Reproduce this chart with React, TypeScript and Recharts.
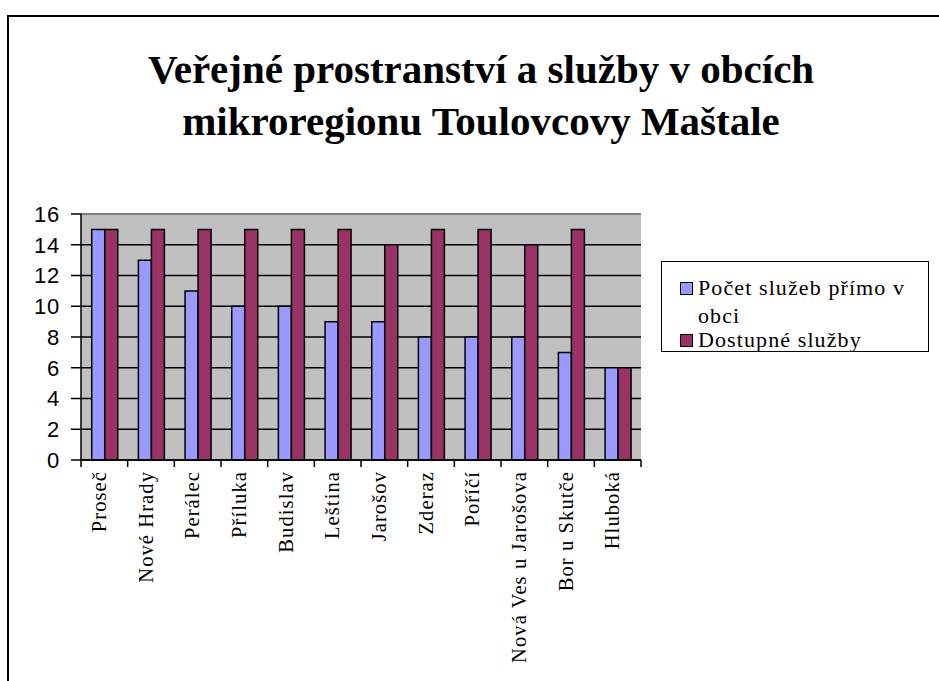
import React from 'react';
import { BarChart, Bar, XAxis, YAxis, CartesianGrid, ReferenceLine } from 'recharts';

const obce = [
  'Proseč',
  'Nové Hrady',
  'Perálec',
  'Příluka',
  'Budislav',
  'Leština',
  'Jarošov',
  'Zderaz',
  'Poříčí',
  'Nová Ves u Jarošova',
  'Bor u Skutče',
  'Hluboká',
];
const primoVObci = [15, 13, 11, 10, 10, 9, 9, 8, 8, 8, 7, 6];
const dostupne = [15, 15, 15, 15, 15, 15, 14, 15, 15, 14, 15, 6];
const yTicks = [0, 2, 4, 6, 8, 10, 12, 14, 16];

const seriesNames = ['Počet služeb přímo v obci', 'Dostupné služby'];
const BLUE = '#9999FF';
const MAROON = '#993366';

const data = obce.map((name, i) => ({
  name,
  primo: primoVObci[i],
  dostupne: dostupne[i],
}));

// plot area geometry (page px)
const PLOT_LEFT = 81;
const PLOT_RIGHT = 641;
const PLOT_TOP = 214;
const PLOT_BOTTOM = 460;
const BAND = (PLOT_RIGHT - PLOT_LEFT) / obce.length;

const serif = '"Liberation Serif", "Times New Roman", serif';
const sans = '"Liberation Sans", Arial, sans-serif';

function CategoryTick(props: any) {
  const { x, y, payload, index } = props;
  const left = x - BAND / 2;
  const isLast = index === obce.length - 1;
  const tx = x + 1.5;
  const ty = y + 11;
  return (
    <g>
      <line x1={left} y1={y} x2={left} y2={y + 7} stroke="#000" strokeWidth={1.5} />
      {isLast && (
        <line x1={left + BAND} y1={y} x2={left + BAND} y2={y + 7} stroke="#000" strokeWidth={1.5} />
      )}
      <text
        x={tx}
        y={ty}
        transform={`rotate(-90, ${tx}, ${ty})`}
        textAnchor="end"
        fontFamily={serif}
        fontSize={20.5}
        letterSpacing={1.1}
        fill="#000"
      >
        {payload.value}
      </text>
    </g>
  );
}

function Legend() {
  const sq = (color: string) => ({
    display: 'inline-block',
    width: 11,
    height: 11,
    background: color,
    border: '1px solid #000',
    marginRight: 5,
    verticalAlign: 'baseline',
  });
  return (
    <div
      style={{
        position: 'absolute',
        left: 661,
        top: 261,
        width: 266,
        height: 89,
        border: '1.5px solid #000',
        background: '#fff',
        fontFamily: serif,
        fontSize: 22,
        letterSpacing: '1.1px',
        color: '#000',
      }}
    >
      <div style={{ position: 'absolute', left: 18, top: 12, lineHeight: '28px', width: 246 }}>
        <div style={{ whiteSpace: 'nowrap' }}>
          <span style={sq(BLUE)} />
          {seriesNames[0].replace(' obci', '')}
        </div>
        <div style={{ paddingLeft: 18, lineHeight: '28px' }}>obci</div>
        <div style={{ whiteSpace: 'nowrap', marginTop: -4 }}>
          <span style={sq(MAROON)} />
          {seriesNames[1]}
        </div>
      </div>
    </div>
  );
}

export default function App() {
  return (
    <div
      style={{
        position: 'fixed',
        left: 0,
        top: 0,
        width: 939,
        height: 681,
        overflow: 'hidden',
        background: '#fff',
      }}
    >
      <div
        style={{
          position: 'absolute',
          left: 7,
          top: 15,
          width: 960,
          height: 700,
          border: '2px solid #000',
        }}
      />
      <div
        style={{
          position: 'absolute',
          left: 20,
          top: 43,
          width: 922,
          textAlign: 'center',
          fontFamily: serif,
          fontWeight: 'bold',
          fontSize: 41,
          lineHeight: '52px',
          color: '#000',
        }}
      >
        Veřejné prostranství a služby v obcích
        <br />
        mikroregionu Toulovcovy Maštale
      </div>
      <div style={{ position: 'absolute', left: 0, top: 0 }}>
        <BarChart
          width={939}
          height={681}
          data={data}
          margin={{ top: PLOT_TOP, right: 939 - PLOT_RIGHT, bottom: 0, left: 0 }}
          barCategoryGap="23%"
          barGap={0}
        >
          <CartesianGrid
            vertical={false}
            stroke="#000"
            strokeWidth={1.5}
            fill="#C0C0C0"
            fillOpacity={1}
          />
          <XAxis
            dataKey="name"
            height={681 - PLOT_BOTTOM}
            interval={0}
            tickLine={false}
            tickSize={0}
            tickMargin={0}
            axisLine={{ stroke: '#000', strokeWidth: 1.5 }}
            tick={<CategoryTick />}
          />
          <YAxis
            width={PLOT_LEFT}
            domain={[0, 16]}
            ticks={yTicks}
            interval={0}
            tickSize={10}
            tickMargin={11}
            axisLine={{ stroke: '#000', strokeWidth: 1.5 }}
            tickLine={{ stroke: '#000', strokeWidth: 1.5 }}
            tick={{ fill: '#000', fontSize: 22, fontFamily: sans, letterSpacing: 0.8 }}
          />
          <YAxis
            yAxisId="right"
            orientation="right"
            width={0}
            domain={[0, 16]}
            tick={false}
            tickLine={false}
            axisLine={{ stroke: '#808080', strokeWidth: 2 }}
          />
          <ReferenceLine y={16} stroke="#808080" strokeWidth={2} />
          <Bar
            dataKey="primo"
            name={seriesNames[0]}
            fill={BLUE}
            stroke="#000"
            strokeWidth={1.5}
            isAnimationActive={false}
          />
          <Bar
            dataKey="dostupne"
            name={seriesNames[1]}
            fill={MAROON}
            stroke="#000"
            strokeWidth={1.5}
            isAnimationActive={false}
          />
        </BarChart>
      </div>
      <Legend />
    </div>
  );
}
